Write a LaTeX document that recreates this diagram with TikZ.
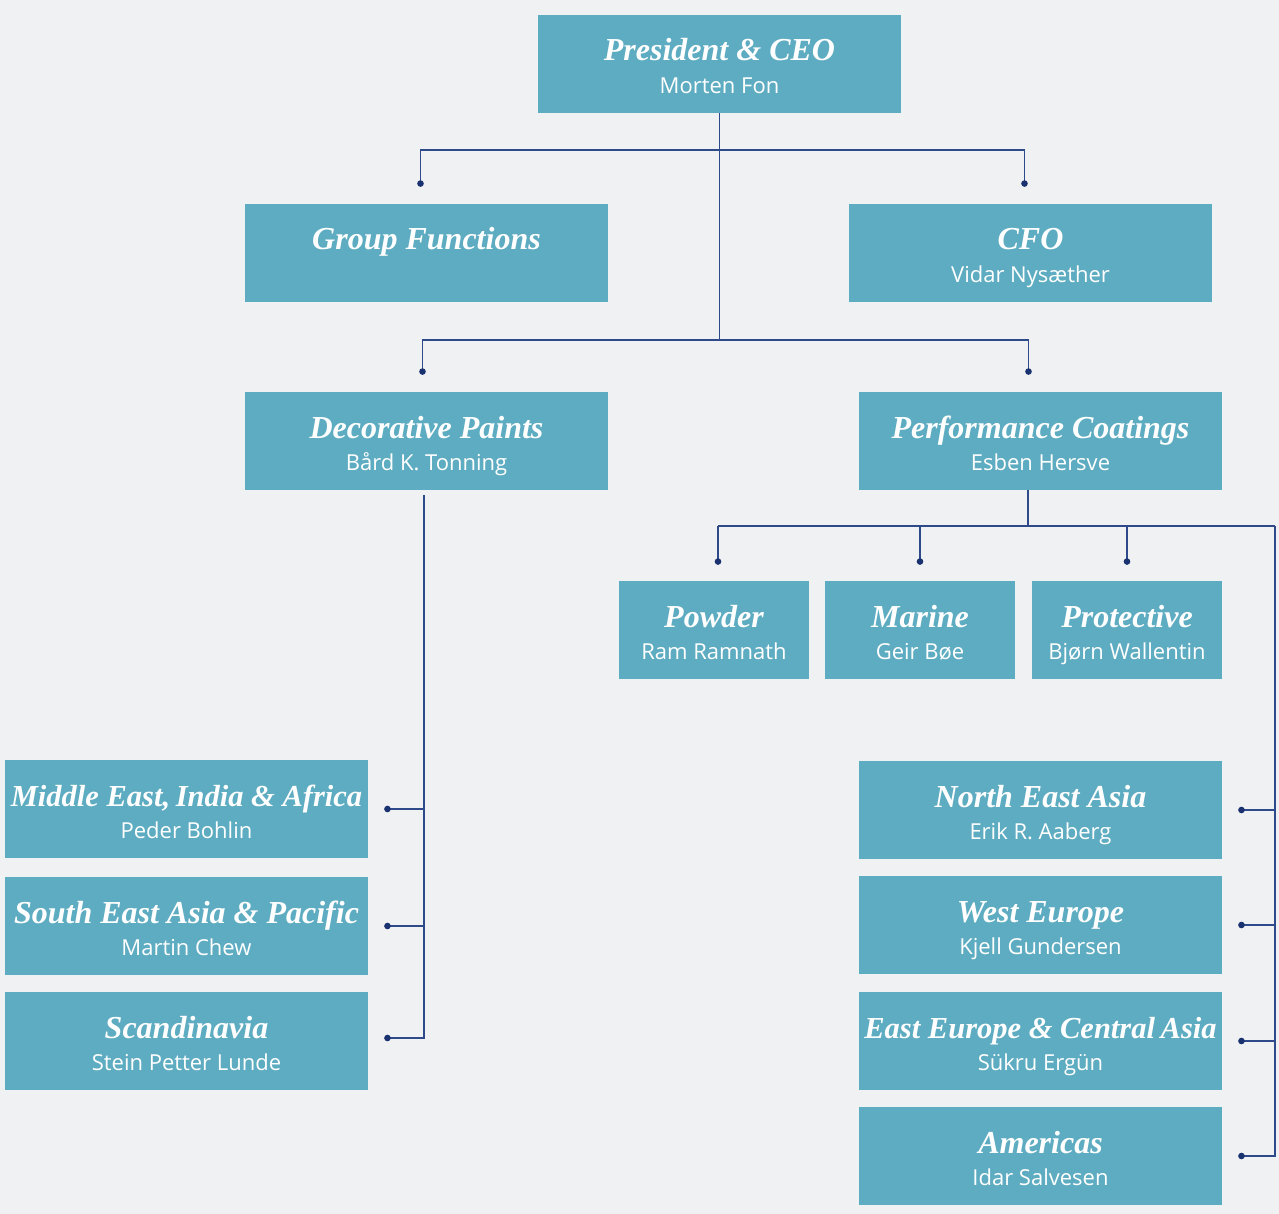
\documentclass[tikz,border=0pt]{standalone}
\usepackage{fontspec}
\setmainfont{Liberation Serif}
\newfontfamily\namefam{Open Sans}
\usetikzlibrary{arrows.meta}
\definecolor{bgc}{HTML}{F0F1F3}
\definecolor{boxc}{HTML}{5EACC1}
\definecolor{linec}{HTML}{2E4A8A}
\definecolor{dotc}{HTML}{1A3370}
\newcommand\orgbox[6]{%
  \node[box, minimum width=#4] (#1) at (#2,#3) {};
  \node[ttl] (#1-t) at ([yshift=3pt]#1.center) {#5};
  \node[nm] (#1-n) at ([yshift=-29.5pt]#1.center) {#6};}
\begin{document}
\begin{tikzpicture}[x=1pt,y=-1pt,
  box/.style={rectangle, fill=boxc, draw=none, minimum height=98pt, inner sep=0pt},
  ttl/.style={anchor=base, inner sep=0pt, text=white, font=\fontsize{32}{34}\selectfont\bfseries\itshape},
  nm/.style={anchor=base, inner sep=0pt, text=white, font=\namefam\fontsize{22}{24}\selectfont},
  line/.style={draw=linec, line width=1.4pt},
  dotend/.style={line, -{Circle[length=6.5pt, width=6.5pt, fill=dotc, color=dotc]}}]
\fill[bgc] (0,0) rectangle (1279,1214);
\useasboundingbox (0,0) rectangle (1279,1214);

\orgbox{ceo}{719.5}{64}{363pt}{President \& CEO}{Morten Fon}
\node[box, minimum width=363pt] (gf) at (426.5,253) {};
\node[ttl] (gf-t) at ([yshift=3pt]gf.center) {Group Functions};
\orgbox{cfo}{1030.5}{253}{363pt}{CFO}{Vidar Nysæther}
\orgbox{dp}{426.5}{441}{363pt}{Decorative Paints}{Bård K. Tonning}
\orgbox{pc}{1040.5}{441}{363pt}{Performance Coatings}{Esben Hersve}
\orgbox{pw}{714}{630}{190pt}{Powder}{Ram Ramnath}
\orgbox{ma}{920}{630}{190pt}{Marine}{Geir Bøe}
\orgbox{pr}{1127}{630}{190pt}{Protective}{Bjørn Wallentin}
\orgbox{me}{186.5}{809}{363pt}{\fontsize{30.5}{34}\selectfont Middle East,\hspace{-2pt} India \& Africa}{Peder Bohlin}
\orgbox{se}{186.5}{926}{363pt}{South East Asia \& Pacific}{Martin Chew}
\orgbox{sc}{186.5}{1041}{363pt}{Scandinavia}{Stein Petter Lunde}
\orgbox{ne}{1040.5}{810}{363pt}{North East Asia}{Erik R. Aaberg}
\orgbox{we}{1040.5}{925}{363pt}{West Europe}{Kjell Gundersen}
\orgbox{ee}{1040.5}{1041}{363pt}{\fontsize{30.5}{34}\selectfont East Europe \& Central\hspace{-2pt} Asia}{Sükru Ergün}
\orgbox{am}{1040.5}{1156}{363pt}{Americas}{Idar Salvesen}

% top level
\coordinate (ja) at (719.5,150);
\coordinate (jb) at (719.5,340);
\draw[line] (ceo.south) -- (jb);
\draw[dotend] (ja) -| ([xshift=-6pt,yshift=17pt]gf.north);
\draw[dotend] (ja) -| ([xshift=-6pt,yshift=17pt]cfo.north);
\draw[dotend] (jb) -| ([xshift=-4pt,yshift=17pt]dp.north);
\draw[dotend] (jb) -| ([xshift=-12pt,yshift=17pt]pc.north);

% decorative paints
\coordinate (jd) at (424,495);
\draw[dotend] (jd) |- ([xshift=16pt,yshift=3pt]sc.east);
\draw[dotend] (jd |- me.east) -- ([xshift=16pt]me.east);
\draw[dotend] (jd |- se.east) -- ([xshift=16pt]se.east);

% performance coatings
\coordinate (jc) at (1028,526);
\coordinate (jr) at (1275,526);
\draw[line] ([xshift=-12.5pt]pc.south) -- (jc);
\draw[line] ([xshift=4pt]pw.north |- jc) -- (jr);
\draw[dotend] ([xshift=4pt]pw.north |- jc) -- ([xshift=4pt,yshift=16pt]pw.north);
\draw[dotend] (ma.north |- jc) -- ([yshift=16pt]ma.north);
\draw[dotend] (pr.north |- jc) -- ([yshift=16pt]pr.north);
\draw[dotend] (jr) |- ([xshift=16pt]am.east);
\draw[dotend] (jr |- ne.east) -- ([xshift=16pt]ne.east);
\draw[dotend] (jr |- we.east) -- ([xshift=16pt]we.east);
\draw[dotend] (jr |- ee.east) -- ([xshift=16pt]ee.east);
\end{tikzpicture}
\end{document}
